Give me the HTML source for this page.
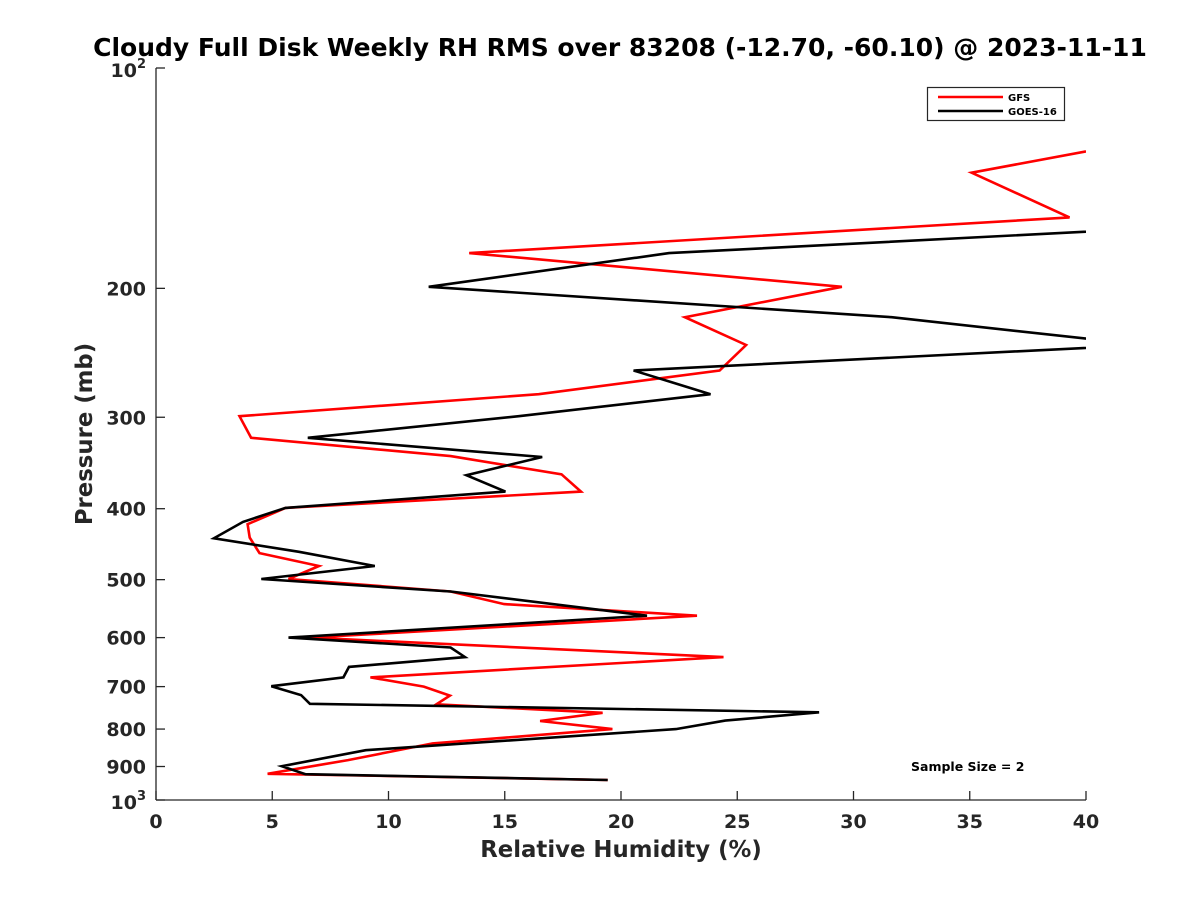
<!DOCTYPE html>
<html><head><meta charset="utf-8">
<style>
html,body{margin:0;padding:0;background:#fff;}
svg{display:block;font-family:"DejaVu Sans","Liberation Sans",sans-serif;}
</style></head>
<body>
<svg id="chart" width="1200" height="900" viewBox="0 0 1200 900">
  <rect width="1200" height="900" fill="#fff"/>
  <text x="620" y="56" text-anchor="middle" font-size="25" font-weight="bold" fill="#000">Cloudy Full Disk Weekly RH RMS over 83208 (-12.70, -60.10) @ 2023-11-11</text>
  <defs><clipPath id="plotclip"><rect x="156" y="68" width="930" height="732"/></clipPath></defs>
  <g id="series" clip-path="url(#plotclip)"></g>
  <g id="axes"></g>
  <text transform="translate(92,434) rotate(-90)" text-anchor="middle" font-size="22.8" font-weight="bold" fill="#262626">Pressure (mb)</text>
  <text x="621" y="857" text-anchor="middle" font-size="22.8" font-weight="bold" fill="#262626">Relative Humidity (%)</text>
  <g>
    <rect x="927.5" y="87.5" width="137" height="33" fill="#fff" stroke="#262626" stroke-width="1.2"/>
    <line x1="938" y1="97" x2="1003" y2="97" stroke="#ff0000" stroke-width="2.5"/>
    <text x="1008" y="101" font-size="10" font-weight="bold" fill="#000">GFS</text>
    <line x1="938" y1="111" x2="1003" y2="111" stroke="#000" stroke-width="2.5"/>
    <text x="1008" y="115" font-size="10" font-weight="bold" fill="#000">GOES-16</text>
  </g>
  <text x="911" y="771" font-size="12.5" font-weight="bold" fill="#000">Sample Size = 2</text>
</svg>
<script>
const gfsLevels = [130,139,160,179,199,219,239,259,279,299,320,339,359,379,399,420,438,460,479,499,519,540,560,600,638,680,700,720,740,760,780,800,837,882,921,939];
const gfsValues = [40.0,35.08,39.29,13.47,29.5,22.75,25.38,24.24,16.46,3.59,4.09,12.67,17.44,18.28,5.57,3.94,4.03,4.45,7.01,5.70,12.67,14.97,23.27,6.62,24.41,9.22,11.52,12.64,12.06,19.21,16.52,19.63,11.9,8.26,4.8,19.43];
const goesLevels = [160,179,199,219,239,259,279,299,320,340,360,379,399,417,439,458,479,499,519,560,600,619,638,658,680,699,719,739,759,779,800,855,899,922,939];
const goesValues = [52,22.07,11.73,31.64,42.5,20.54,23.85,15.6,6.53,16.61,13.35,15.03,5.57,3.74,2.49,6.15,9.41,4.53,12.67,21.12,5.70,12.67,13.29,8.30,8.06,4.96,6.24,6.62,28.52,24.48,22.36,9.02,5.41,6.43,19.43];
const xTicks = [0,5,10,15,20,25,30,35,40];
const yTicks = [200,300,400,500,600,700,800,900];

const X0=156,X1=1086,Y0=68,Y1=800;
function xs(v){return X0+(v-0)/(40-0)*(X1-X0);}
function ys(p){return Y0+(Math.log10(p)-2)/(3-2)*(Y1-Y0);}
const NS="http://www.w3.org/2000/svg";
const series=document.getElementById('series');
const axes=document.getElementById('axes');

function drawLine(levels,values,color,name){
  const pl=document.createElementNS(NS,'polyline');
  pl.setAttribute('points',levels.map((p,i)=>xs(values[i]).toFixed(1)+','+ys(p).toFixed(1)).join(' '));
  pl.setAttribute('fill','none');pl.setAttribute('stroke',color);pl.setAttribute('stroke-width','2.6');
  pl.setAttribute('stroke-linejoin','miter');
  
  
  series.appendChild(pl);
}
drawLine(gfsLevels,gfsValues,'#ff0000','gfs-line');
drawLine(goesLevels,goesValues,'#000000','goes16-line');

function mk(tag,attrs){const e=document.createElementNS(NS,tag);for(const k in attrs)e.setAttribute(k,attrs[k]);return e;}
const yAxis=mk('line',{x1:X0,y1:Y0,x2:X0,y2:Y1,stroke:'#262626','stroke-width':1.3});


axes.appendChild(yAxis);
const xAxis=mk('line',{x1:X0,y1:Y1,x2:X1,y2:Y1,stroke:'#262626','stroke-width':1.3});


axes.appendChild(xAxis);

xTicks.forEach(v=>{
  const x=xs(v);
  const t=mk('line',{x1:x,y1:Y1,x2:x,y2:Y1-9,stroke:'#262626','stroke-width':1.3});
  
  
  axes.appendChild(t);
  const l=mk('text',{x:x,y:Y1+28,'text-anchor':'middle','font-size':19,'font-weight':'bold',fill:'#262626'});
  l.textContent=String(v);
  
  
  axes.appendChild(l);
});
yTicks.concat([100,1000]).forEach(p=>{
  const y=ys(p);
  const t=mk('line',{x1:X0,y1:y,x2:X0+9,y2:y,stroke:'#262626','stroke-width':1.3});
  
  
  axes.appendChild(t);
});
yTicks.forEach(p=>{
  const y=ys(p);
  const l=mk('text',{x:X0-10,y:y+7,'text-anchor':'end','font-size':19,'font-weight':'bold',fill:'#262626'});
  l.textContent=String(p);
  
  
  axes.appendChild(l);
});
[[100,'2'],[1000,'3']].forEach(([p,e])=>{
  const y=ys(p);
  const l=mk('text',{x:X0-10,y:y+9,'text-anchor':'end','font-size':19,'font-weight':'bold',fill:'#262626'});
  l.appendChild(document.createTextNode('10'));
  const s=mk('tspan',{'font-size':13,dy:-9});s.textContent=e;l.appendChild(s);
  
  
  axes.appendChild(l);
});
</script>
</body></html>
